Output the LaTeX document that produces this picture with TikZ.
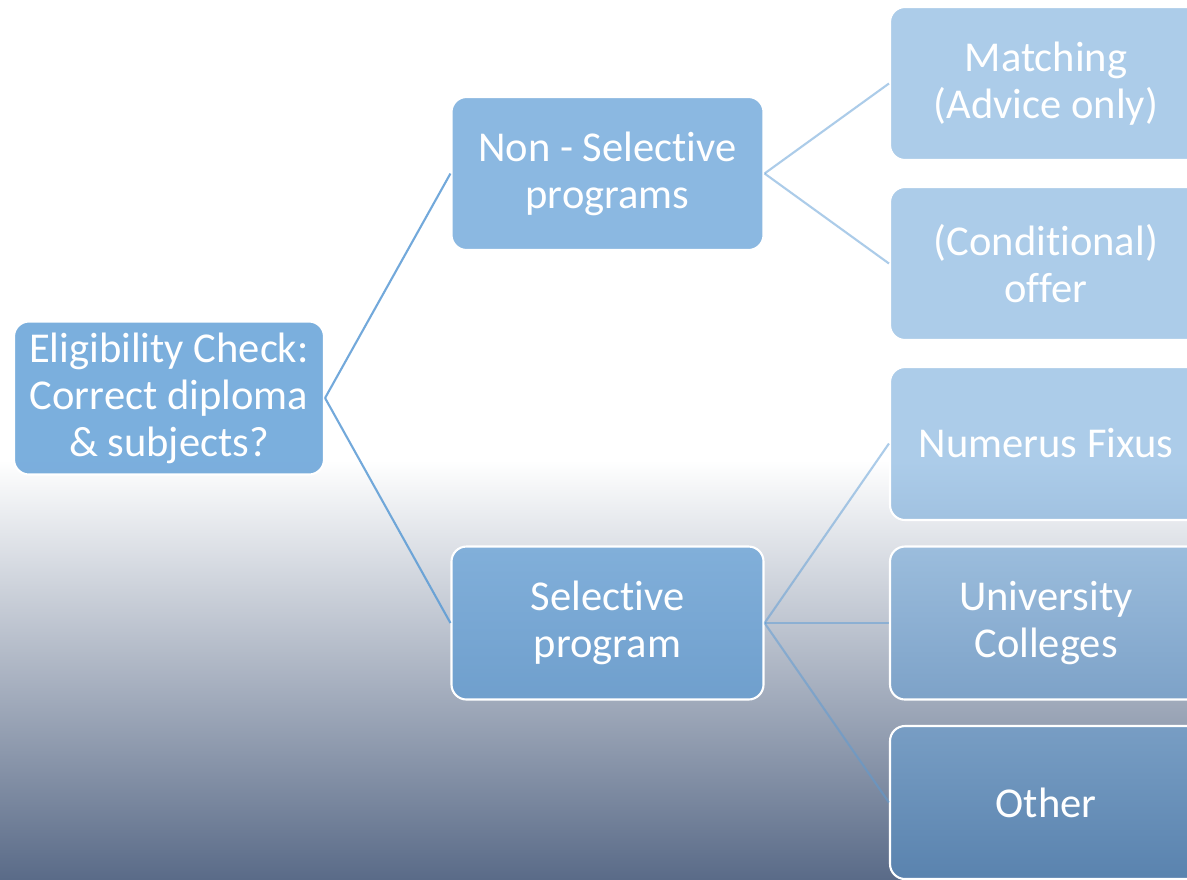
\documentclass[tikz,border=0pt]{standalone}
\usepackage{fontspec}
\setmainfont{Carlito}[Ligatures=NoCommon]
\usepackage{tikz}
\usetikzlibrary{positioning}
\definecolor{boxblue}{RGB}{91,155,213}
\definecolor{bgdark}{RGB}{90,107,136}

\begin{document}
\begin{tikzpicture}[
		box/.style={draw=white, line width=0.6pt, rounded corners=0.15cm, fill=boxblue, text=white, text opacity=1, align=center, minimum width=3.12cm, minimum height=1.53cm, inner sep=0pt, font=\fontsize{12.1}{13.4}\selectfont},
		link/.style={draw=boxblue, line width=0.6pt}
	]
		\useasboundingbox (0,0) rectangle (11.87,8.79);
		\fill[white] (0,4.19) rectangle (11.87,8.79);
		\shade[top color=white, bottom color=bgdark] (0,0) rectangle (11.87,4.19);

		\node[box, fill opacity=0.8, minimum width=3.1cm] (elig) at (1.69, 4.81) {Eligibility Check:\\Correct diploma\\\& subjects?};
		\node[box, fill opacity=0.7] (nonsel) at (6.075, 7.055) {Non - Selective\\programs};
		\node[box, fill opacity=0.7] (sel) at (6.075, 2.56) {Selective\\program};

		\node[box, fill opacity=0.5] (match) at (10.46, 7.955) {Matching\\(Advice only)};
		\node[box, fill opacity=0.5] (cond) at (10.46, 6.155) {(Conditional)\\offer};
		\node[box, fill opacity=0.5] (numfix) at (10.46, 4.355) {Numerus Fixus};
		\node[box, fill opacity=0.5] (ucoll) at (10.46, 2.56) {University\\Colleges};
		\node[box, fill opacity=0.5] (other) at (10.46, 0.765) {Other};

		\path[link, draw opacity=0.85] (elig.east) -- (nonsel.west);
		\path[link, draw opacity=0.85] (elig.east) -- (sel.west);
		\path[link, draw opacity=0.5] (nonsel.east) -- (match.west);
		\path[link, draw opacity=0.5] (nonsel.east) -- (cond.west);
		\path[link, draw opacity=0.5] (sel.east) -- (numfix.west);
		\path[link, draw opacity=0.5] (sel.east) -- (ucoll.west);
		\path[link, draw opacity=0.5] (sel.east) -- (other.west);
	\end{tikzpicture}
\end{document}
